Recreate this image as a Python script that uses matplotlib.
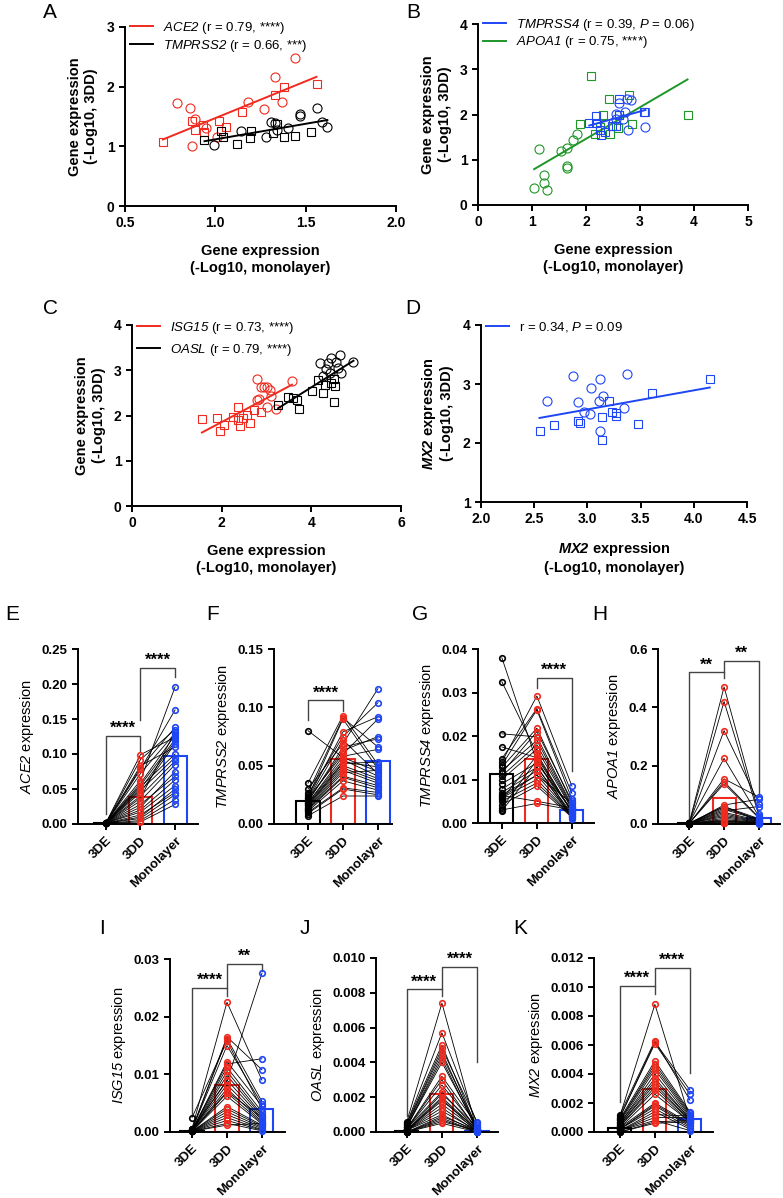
import numpy as np
import matplotlib.pyplot as plt

# mathtext is only used for gene names: rm -> italic, bf -> bold italic
# (keeps digits italic too, which 'it' mode would set upright)
plt.rcParams['font.family'] = 'Liberation Sans'
plt.rcParams['mathtext.fontset'] = 'custom'
plt.rcParams['mathtext.rm'] = 'Liberation Sans:italic'
plt.rcParams['mathtext.it'] = 'Liberation Sans:italic'
plt.rcParams['mathtext.bf'] = 'Liberation Sans:bold:italic'
plt.rcParams['axes.linewidth'] = 1.4

RED = '#F02A1E'
BLUE = '#1E46F5'
GREEN = '#1E9628'

# ---- scatter panels (circles / squares, -log10 values) ----
ace2_c_x = [0.79, 0.86, 0.87, 0.89, 0.95, 1.01, 1.18, 1.27, 1.33, 1.37, 1.44]
ace2_c_y = [1.72, 1.64, 1.00, 1.45, 1.30, 1.16, 1.74, 1.63, 2.16, 1.74, 2.48]
ace2_s_x = [0.71, 0.87, 0.89, 0.93, 0.94, 1.02, 1.06, 1.15, 1.33, 1.38, 1.56]
ace2_s_y = [1.07, 1.43, 1.28, 1.35, 1.24, 1.43, 1.33, 1.58, 1.86, 1.99, 2.05]
tmprss2_c_x = [0.99, 1.14, 1.28, 1.31, 1.33, 1.34, 1.40, 1.47, 1.47, 1.56, 1.59, 1.62]
tmprss2_c_y = [1.03, 1.25, 1.16, 1.40, 1.39, 1.28, 1.31, 1.51, 1.54, 1.64, 1.40, 1.32]
tmprss2_s_x = [0.94, 1.03, 1.04, 1.12, 1.19, 1.20, 1.32, 1.34, 1.38, 1.44, 1.53]
tmprss2_s_y = [1.11, 1.26, 1.16, 1.04, 1.14, 1.26, 1.22, 1.37, 1.15, 1.18, 1.24]

apoa1_c_x = [1.04, 1.13, 1.23, 1.22, 1.27, 1.54, 1.65, 1.64, 1.64, 1.76, 1.83]
apoa1_c_y = [0.37, 1.24, 0.66, 0.49, 0.33, 1.19, 1.25, 0.86, 0.81, 1.44, 1.56]
apoa1_s_x = [1.88, 2.10, 2.16, 2.25, 2.31, 2.35, 2.43, 2.44, 2.59, 2.62, 2.80, 2.86, 3.10, 3.88]
apoa1_s_y = [1.79, 2.84, 1.56, 1.72, 1.99, 1.79, 2.34, 1.57, 1.71, 1.99, 2.42, 1.79, 2.06, 1.99]
tmprss4_c_x = [2.56, 2.62, 2.75, 2.84, 2.56, 2.69, 2.78, 3.10, 2.73]
tmprss4_c_y = [2.01, 2.25, 2.35, 2.33, 1.90, 1.90, 1.66, 1.72, 2.05]
tmprss4_s_x = [2.06, 2.18, 2.18, 2.25, 2.28, 2.35, 2.61, 2.62, 2.49, 2.56, 3.07]
tmprss4_s_y = [1.81, 1.97, 1.81, 1.66, 1.55, 1.61, 2.35, 1.99, 1.74, 1.74, 2.06]

isg15_c_x = [2.78, 2.79, 2.87, 2.94, 3.00, 3.07, 2.84, 3.01, 3.11, 3.21, 3.57]
isg15_c_y = [2.80, 2.34, 2.62, 2.62, 2.64, 2.56, 2.36, 2.19, 2.42, 2.14, 2.77]
isg15_s_x = [1.56, 1.89, 1.96, 2.05, 2.26, 2.37, 2.37, 2.41, 2.47, 2.56, 2.64, 2.72, 2.87]
isg15_s_y = [1.92, 1.95, 1.66, 1.79, 1.97, 2.18, 1.90, 1.77, 1.94, 2.01, 1.83, 2.12, 2.08]
oasl_c_x = [4.20, 4.32, 4.37, 4.44, 4.56, 4.63, 4.59, 4.67, 4.94, 4.26, 4.41]
oasl_c_y = [3.16, 3.02, 3.16, 3.26, 3.19, 3.34, 3.04, 2.93, 3.19, 2.87, 2.95]
oasl_s_x = [3.26, 3.48, 3.58, 3.67, 3.72, 4.02, 4.15, 4.26, 4.30, 4.44, 4.50, 4.50, 4.52]
oasl_s_y = [2.23, 2.40, 2.38, 2.34, 2.14, 2.55, 2.78, 2.50, 2.67, 2.72, 2.80, 2.30, 2.65]

mx2_c_x = [2.62, 2.86, 2.91, 2.97, 3.02, 3.03, 3.12, 3.11, 3.15, 3.12, 3.34, 3.37]
mx2_c_y = [2.72, 3.13, 2.69, 2.53, 2.49, 2.94, 3.09, 2.72, 2.79, 2.21, 2.59, 3.17]
mx2_s_x = [2.55, 2.69, 2.91, 2.93, 3.14, 3.14, 3.20, 3.23, 3.27, 3.27, 3.48, 3.61, 4.15]
mx2_s_y = [2.20, 2.31, 2.38, 2.34, 2.44, 2.05, 2.72, 2.53, 2.51, 2.46, 2.33, 2.85, 3.08]

# ---- paired panels: one value per donor for 3DE, 3DD, Monolayer ----
groups = ['3DE', '3DD', 'Monolayer']

e_de = [0.0012, 0.0010, 0.0009, 0.0011, 0.0008, 0.0010, 0.0012, 0.0009, 0.0010, 0.0011, 0.0008, 0.0010,
        0.0009, 0.0012, 0.0010, 0.0008, 0.0011, 0.0009, 0.0010, 0.0012, 0.0008, 0.0010, 0.0011, 0.0009, 0.0010]
e_dd = [0.099, 0.092, 0.083, 0.080, 0.078, 0.072, 0.062, 0.058, 0.055, 0.053, 0.050, 0.048, 0.045,
        0.040, 0.037, 0.033, 0.028, 0.024, 0.020, 0.017, 0.013, 0.010, 0.008, 0.005, 0.003]
e_mono = [0.124, 0.135, 0.110, 0.138, 0.163, 0.130, 0.196, 0.127, 0.121, 0.100, 0.118, 0.095, 0.115,
          0.090, 0.132, 0.085, 0.068, 0.075, 0.063, 0.055, 0.045, 0.050, 0.042, 0.035, 0.028]
e_mean = [0.001, 0.039, 0.097]

f_de = [0.080, 0.035, 0.030, 0.027, 0.025, 0.023, 0.022, 0.022, 0.021, 0.020, 0.019, 0.018, 0.018,
        0.017, 0.016, 0.016, 0.015, 0.014, 0.013, 0.013, 0.012, 0.011, 0.010, 0.009, 0.007]
f_dd = [0.057, 0.093, 0.069, 0.091, 0.075, 0.090, 0.079, 0.060, 0.072, 0.063, 0.066, 0.055, 0.058,
        0.053, 0.050, 0.052, 0.048, 0.046, 0.044, 0.041, 0.040, 0.037, 0.031, 0.030, 0.024]
f_mono = [0.045, 0.051, 0.116, 0.066, 0.104, 0.047, 0.092, 0.090, 0.043, 0.075, 0.073, 0.041, 0.064,
          0.049, 0.039, 0.053, 0.037, 0.035, 0.046, 0.033, 0.031, 0.029, 0.027, 0.025, 0.024]
f_mean = [0.020, 0.056, 0.054]

g_de = [0.0380, 0.0325, 0.0205, 0.0175, 0.0148, 0.0140, 0.0133, 0.0128, 0.0120, 0.0115, 0.0108, 0.0100,
        0.0090, 0.0078, 0.0070, 0.0063, 0.0060, 0.0058, 0.0050, 0.0042, 0.0035, 0.0030, 0.0028, 0.0065, 0.0055]
g_dd = [0.0140, 0.0160, 0.0198, 0.0150, 0.0263, 0.0292, 0.0260, 0.0218, 0.0190, 0.0210, 0.0180, 0.0170,
        0.0138, 0.0128, 0.0120, 0.0050, 0.0110, 0.0100, 0.0092, 0.0085, 0.0145, 0.0045, 0.0130, 0.0110, 0.0155]
g_mono = [0.0030, 0.0024, 0.0040, 0.0026, 0.0068, 0.0085, 0.0055, 0.0045, 0.0037, 0.0050, 0.0034, 0.0032,
          0.0028, 0.0022, 0.0020, 0.0035, 0.0018, 0.0016, 0.0015, 0.0013, 0.0012, 0.0030, 0.0010, 0.0045, 0.0025]
g_mean = [0.0112, 0.0147, 0.0031]

h_de = [0.002, 0.001, 0.002, 0.003, 0.001, 0.002, 0.002, 0.001, 0.003, 0.002, 0.001, 0.002, 0.002,
        0.001, 0.002, 0.003, 0.001, 0.002, 0.002, 0.001, 0.002, 0.003, 0.001, 0.002, 0.002]
h_dd = [0.470, 0.420, 0.320, 0.225, 0.155, 0.145, 0.138, 0.065, 0.060, 0.055, 0.050, 0.045, 0.040,
        0.035, 0.030, 0.025, 0.020, 0.015, 0.012, 0.010, 0.008, 0.005, 0.003, 0.002, 0.060]
h_mono = [0.035, 0.028, 0.070, 0.025, 0.092, 0.022, 0.020, 0.085, 0.018, 0.016, 0.014, 0.060, 0.012,
          0.010, 0.009, 0.008, 0.007, 0.006, 0.005, 0.004, 0.003, 0.002, 0.001, 0.003, 0.011]
h_mean = [0.002, 0.090, 0.020]

i_de = [0.0025, 0.0006, 0.0005, 0.0005, 0.0004, 0.0004, 0.0003, 0.0003, 0.0003, 0.0002, 0.0002, 0.0002,
        0.0002, 0.0001, 0.0001, 0.0001, 0.0001, 0.0001, 0.0001, 0.0001, 0.0001, 0.0001, 0.0001, 0.0001, 0.0001]
i_dd = [0.0158, 0.0225, 0.0165, 0.0088, 0.0162, 0.0150, 0.0118, 0.0122, 0.0112, 0.0105, 0.0098, 0.0090,
        0.0082, 0.0075, 0.0068, 0.0062, 0.0044, 0.0040, 0.0035, 0.0030, 0.0025, 0.0020, 0.0015, 0.0012, 0.0070]
i_mono = [0.0040, 0.0090, 0.0108, 0.0275, 0.0053, 0.0048, 0.0127, 0.0045, 0.0035, 0.0030, 0.0027, 0.0024,
          0.0021, 0.0018, 0.0016, 0.0014, 0.0012, 0.0010, 0.0008, 0.0006, 0.0004, 0.0003, 0.0002, 0.0015, 0.0025]
i_mean = [0.0002, 0.0081, 0.0040]

j_de = [0.0006, 0.0005, 0.0005, 0.0004, 0.0004, 0.0003, 0.0003, 0.0003, 0.0002, 0.0002, 0.0002, 0.0002,
        0.0001, 0.0001, 0.0001, 0.0001, 0.0001, 0.0001, 0.0001, 0.0001, 0.0000, 0.0000, 0.0000, 0.0000, 0.0000]
j_dd = [0.0074, 0.0057, 0.0050, 0.0048, 0.0046, 0.0044, 0.0042, 0.0040, 0.0032, 0.0030, 0.0027, 0.0023,
        0.0022, 0.0020, 0.0019, 0.0018, 0.0016, 0.0014, 0.0012, 0.0010, 0.0009, 0.0008, 0.0007, 0.0006, 0.0005]
j_mono = [0.0001, 0.0005, 0.0002, 0.0006, 0.0001, 0.0003, 0.0001, 0.0002, 0.0004, 0.0001, 0.0002, 0.0001,
          0.0003, 0.0001, 0.0000, 0.0002, 0.0001, 0.0000, 0.0001, 0.0000, 0.0001, 0.0000, 0.0000, 0.0001, 0.0000]
j_mean = [0.00005, 0.0022, 0.00005]

k_de = [0.0012, 0.0011, 0.0010, 0.0010, 0.0009, 0.0008, 0.0008, 0.0007, 0.0006, 0.0006, 0.0005, 0.0005,
        0.0004, 0.0004, 0.0003, 0.0003, 0.0002, 0.0002, 0.0002, 0.0001, 0.0001, 0.0001, 0.0001, 0.0000, 0.0000]
k_dd = [0.0063, 0.0088, 0.0062, 0.0061, 0.0049, 0.0047, 0.0045, 0.0043, 0.0040, 0.0037, 0.0035, 0.0033,
        0.0031, 0.0029, 0.0026, 0.0020, 0.0019, 0.0018, 0.0016, 0.0014, 0.0012, 0.0010, 0.0008, 0.0007, 0.0006]
k_mono = [0.0022, 0.0009, 0.0029, 0.0026, 0.0014, 0.0013, 0.0012, 0.0011, 0.0010, 0.0009, 0.0009, 0.0008,
          0.0008, 0.0007, 0.0007, 0.0006, 0.0005, 0.0004, 0.0003, 0.0002, 0.0011, 0.0010, 0.0001, 0.0008, 0.0007]
k_mean = [0.0003, 0.0030, 0.0009]

W, H = 783, 1198
fig = plt.figure(figsize=(W / 100, H / 100), dpi=100)


def add_ax(l, r, t, b):
    ax = fig.add_axes([l / W, 1 - b / H, (r - l) / W, (b - t) / H])
    ax.spines[['top', 'right']].set_visible(False)
    ax.tick_params(width=1.4, length=4)
    return ax


def scatter_panel(ax, sets, xticks, xfmt, yticks, legend_y, spacing, order=None):
    handles = []
    for xc, yc, xs, ys, color, label in sets:
        ax.plot(xc, yc, 'o', mfc='none', mec=color, ms=6.5, mew=0.8, clip_on=False)
        ax.plot(xs, ys, 's', mfc='none', mec=color, ms=6, mew=0.8, clip_on=False)
        x = np.r_[xc, xs]
        y = np.r_[yc, ys]
        k, b = np.polyfit(x, y, 1)
        xx = np.array([x.min(), x.max()])
        ln, = ax.plot(xx, k * xx + b, color=color, lw=1.4, label=label)
        handles.append(ln)
    if order:
        handles = [handles[i] for i in order]
    ax.set_xlim(xticks[0], xticks[-1])
    ax.set_ylim(yticks[0], yticks[-1])
    ax.set_xticks(xticks, [xfmt % v for v in xticks], fontweight='bold', fontsize=10)
    ax.set_yticks(yticks, ['%d' % v for v in yticks], fontweight='bold', fontsize=10)
    ax.legend(handles=handles, loc='upper left', bbox_to_anchor=(0.02, legend_y), frameon=False,
              fontsize=9.5, handlelength=1.7, handletextpad=0.8, labelspacing=spacing,
              borderpad=0, borderaxespad=0)
    ax.set_ylabel('Gene expression\n(-Log10, 3DD)', fontweight='bold', fontsize=10.5, labelpad=6)
    ax.set_xlabel('Gene expression\n(-Log10, monolayer)', fontweight='bold', fontsize=10.5,
                  labelpad=10)


def paired_panel(ax, de, dd, mono, means, yticks, yfmt, ylabel, xlim, brackets):
    x = np.arange(3)
    for a, b, c in zip(de, dd, mono):
        ax.plot([0, 1, 2], [a, b, c], color='black', lw=0.6, zorder=2)
    ax.bar(x, means, width=0.66, fill=False, edgecolor=['black', RED, BLUE], lw=1.5, zorder=1)
    for i, (vals, color) in enumerate(zip([de, dd, mono], ['black', RED, BLUE])):
        ax.plot(np.full(len(vals), i), vals, 'o', mfc='none', mec=color, ms=4, mew=1.2, zorder=3,
                clip_on=False)
    ax.set_xlim(*xlim)
    ax.set_ylim(yticks[0], yticks[-1])
    ax.set_yticks(yticks, [yfmt % v for v in yticks], fontweight='bold', fontsize=9.5)
    ax.set_xticks(x, groups, rotation=45, ha='right', rotation_mode='anchor',
                  fontweight='bold', fontsize=9.5)
    ax.set_ylabel(ylabel, fontsize=10.5, labelpad=4)
    for x1, x2, top, left_end, right_end, label in brackets:
        ax.plot([x1, x1, x2, x2], [left_end, top, top, right_end], color='#444444', lw=1.0,
                clip_on=False)
        ax.text((x1 + x2) / 2, top, label, ha='center', va='bottom', fontsize=12,
                fontweight='bold')


# ---- A ----
ax = add_ax(125, 396, 27, 206)
scatter_panel(ax, [(ace2_c_x, ace2_c_y, ace2_s_x, ace2_s_y, RED, r'$\mathrm{ACE2}$ (r = 0.79, ****)'),
                   (tmprss2_c_x, tmprss2_c_y, tmprss2_s_x, tmprss2_s_y, 'black',
                    r'$\mathrm{TMPRSS2}$ (r = 0.66, ***)')],
              [0.5, 1.0, 1.5, 2.0], '%.1f', [0, 1, 2, 3], 1.04, 0.15)

# ---- B ----
ax = add_ax(478, 748, 24, 205)
scatter_panel(ax, [(apoa1_c_x, apoa1_c_y, apoa1_s_x, apoa1_s_y, GREEN, r'$\mathrm{APOA1}$ (r = 0.75, ****)'),
                   (tmprss4_c_x, tmprss4_c_y, tmprss4_s_x, tmprss4_s_y, BLUE,
                    r'$\mathrm{TMPRSS4}$ (r = 0.39, $\mathrm{P}$ = 0.06)')],
              [0, 1, 2, 3, 4, 5], '%d', [0, 1, 2, 3, 4], 1.04, 0.12, order=[1, 0])

# ---- C ----
ax = add_ax(132, 401, 325, 506)
scatter_panel(ax, [(isg15_c_x, isg15_c_y, isg15_s_x, isg15_s_y, RED, r'$\mathrm{ISG15}$ (r = 0.73, ****)'),
                   (oasl_c_x, oasl_c_y, oasl_s_x, oasl_s_y, 'black', r'$\mathrm{OASL}$ (r = 0.79, ****)')],
              [0, 2, 4, 6], '%d', [0, 1, 2, 3, 4], 1.03, 0.45)

# ---- D ----
ax = add_ax(481, 747, 325, 502)
scatter_panel(ax, [(mx2_c_x, mx2_c_y, mx2_s_x, mx2_s_y, BLUE, r'r = 0.34, $\mathrm{P}$ = 0.09')],
              [2.0, 2.5, 3.0, 3.5, 4.0, 4.5], '%.1f', [1, 2, 3, 4], 1.03, 0.25)
ax.set_xlabel(r'$\mathbf{MX2}$ expression' + '\n(-Log10, monolayer)', fontweight='bold',
              fontsize=10.5, labelpad=10)
ax.set_ylabel(r'$\mathbf{MX2}$ expression' + '\n(-Log10, 3DD)', fontweight='bold',
              fontsize=10.5, labelpad=6)

# ---- E-K ----
ax = add_ax(78, 198, 649, 824)
paired_panel(ax, e_de, e_dd, e_mono, e_mean, [0, 0.05, 0.10, 0.15, 0.20, 0.25], '%.2f',
             r'$\mathrm{ACE2}$ expression', (-0.8, 2.66),
             [(0, 1, 0.126, 0.015, 0.105, '****'), (1, 2, 0.223, 0.149, 0.21, '****')])

ax = add_ax(274, 392, 649, 824)
paired_panel(ax, f_de, f_dd, f_mono, f_mean, [0, 0.05, 0.10, 0.15], '%.2f',
             r'$\mathrm{TMPRSS2}$ expression', (-0.97, 2.4),
             [(0, 1, 0.106, 0.089, 0.097, '****')])

ax = add_ax(478, 594, 649, 823)
paired_panel(ax, g_de, g_dd, g_mono, g_mean, [0, 0.01, 0.02, 0.03, 0.04], '%.2f',
             r'$\mathrm{TMPRSS4}$ expression', (-0.68, 2.63),
             [(1, 2, 0.0333, 0.031, 0.012, '****')])

ax = add_ax(658, 780, 649, 824)
paired_panel(ax, h_de, h_dd, h_mono, h_mean, [0, 0.2, 0.4, 0.6], '%.1f',
             r'$\mathrm{APOA1}$ expression', (-0.89, 2.6),
             [(0, 1, 0.52, 0.015, 0.50, '**'), (1, 2, 0.56, 0.52, 0.10, '**')])

ax = add_ax(170, 285, 959, 1132)
paired_panel(ax, i_de, i_dd, i_mono, i_mean, [0, 0.01, 0.02, 0.03], '%.2f',
             r'$\mathrm{ISG15}$ expression', (-0.63, 2.66),
             [(0, 1, 0.025, 0.003, 0.0235, '****'), (1, 2, 0.0291, 0.025, 0.028, '**')])

ax = add_ax(376, 498, 958, 1132)
paired_panel(ax, j_de, j_dd, j_mono, j_mean, [0, 0.002, 0.004, 0.006, 0.008, 0.010], '%.3f',
             r'$\mathrm{OASL}$ expression', (-0.88, 2.6),
             [(0, 1, 0.0082, 0.0009, 0.0078, '****'), (1, 2, 0.0095, 0.0082, 0.004, '****')])

ax = add_ax(594, 713, 958, 1132)
paired_panel(ax, k_de, k_dd, k_mono, k_mean, [0, 0.002, 0.004, 0.006, 0.008, 0.010, 0.012], '%.3f',
             r'$\mathrm{MX2}$ expression', (-0.74, 2.66),
             [(0, 1, 0.0101, 0.0021, 0.0095, '****'), (1, 2, 0.0113, 0.0101, 0.0041, '****')])

# panel letters
for letter, px, py in [('A', 50, 13), ('B', 413, 12), ('C', 50, 308), ('D', 413, 308),
                       ('E', 12, 615), ('F', 213, 615), ('G', 420, 615), ('H', 600, 615),
                       ('I', 102, 928), ('J', 305, 928), ('K', 520, 928)]:
    fig.text(px / W, 1 - py / H, letter, fontsize=15, ha='center', va='center')

fig.savefig('out.png', dpi=100)
